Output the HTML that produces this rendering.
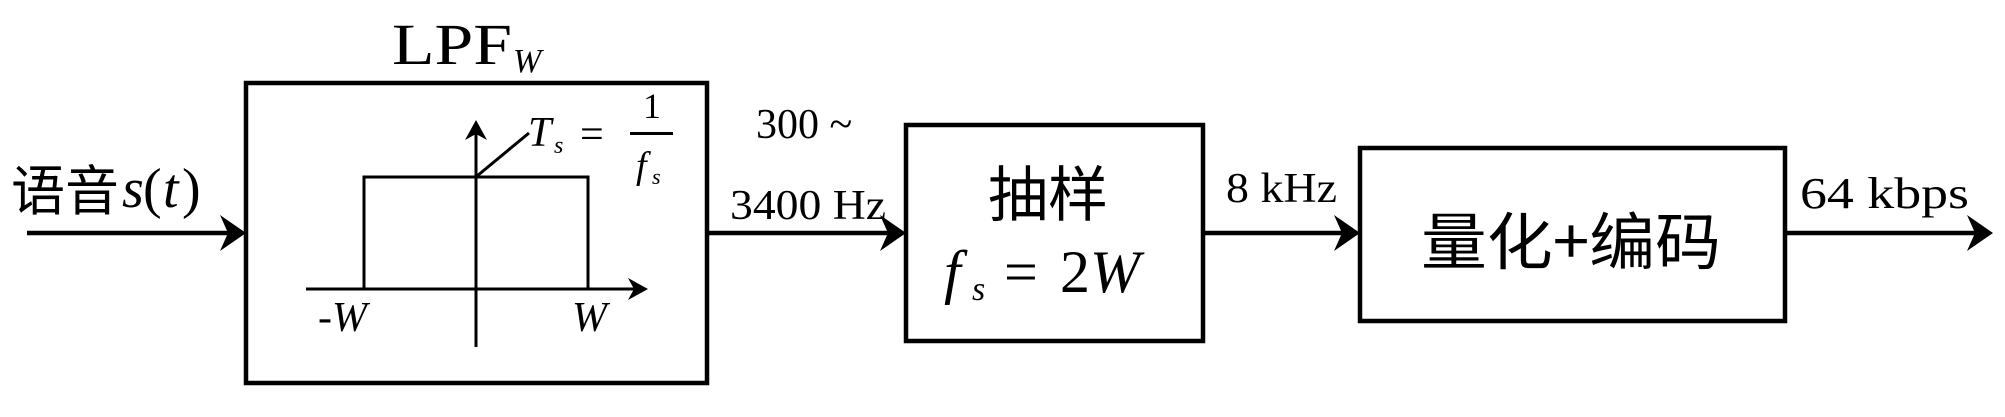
<!DOCTYPE html>
<html><head><meta charset="utf-8"><style>html,body{margin:0;padding:0;background:#fff}svg{display:block}</style></head>
<body>
<svg width="2005" height="417" viewBox="0 0 2005 417" xmlns="http://www.w3.org/2000/svg" font-family="'Liberation Serif','Noto Serif CJK SC',serif">
<g fill="none" stroke="#000">
<rect x="246" y="83" width="461" height="300" stroke-width="4.5"/>
<rect x="906" y="125" width="297" height="216" stroke-width="4.5"/>
<rect x="1360" y="148" width="425" height="173" stroke-width="4.5"/>
<path d="M27 233H238M708 233H898M1205 233H1352M1787 233H1982" stroke-width="4.5"/>
<path d="M306 289H640M476 347V128M364 289V177H588V289M477 176L529 133" stroke-width="3"/>
</g>
<g fill="#000">
<path d="M246 233L220 215L228 233L220 251Z"/>
<path d="M906 233L880 215L888 233L880 251Z"/>
<path d="M1360 233L1334 215L1342 233L1334 251Z"/>
<path d="M1993 233L1967 215L1975 233L1967 251Z"/>
<path d="M648 289L628 278L634 289L628 300Z"/>
<path d="M476 120L465 140L476 134L487 140Z"/>
</g>
<g fill="#000">
<text x="392" y="64" font-size="58" textLength="120" lengthAdjust="spacingAndGlyphs">LPF</text>
<text x="513" y="72" font-size="34" font-style="italic">W</text>
<text x="11" y="210" font-size="54" font-family="'Noto Sans CJK SC',sans-serif">语音</text>
<text x="122" y="207" font-size="56" font-style="italic">s</text>
<text x="143" y="207" font-size="56">(</text>
<text x="163" y="207" font-size="56" font-style="italic">t</text>
<text x="182" y="207" font-size="56">)</text>
<text x="528" y="146" font-size="42" font-style="italic">T</text>
<text x="554" y="153" font-size="24" font-style="italic">s</text>
<text x="580" y="148" font-size="42">=</text>
<text x="643" y="118" font-size="36">1</text>
<rect x="630" y="132" width="43" height="3"/>
<text x="636" y="178" font-size="38" font-style="italic">f</text>
<text x="652" y="184" font-size="22" font-style="italic">s</text>
<text x="318" y="331" font-size="42">-</text>
<text x="332" y="331" font-size="42" font-style="italic">W</text>
<text x="572" y="331" font-size="42" font-style="italic">W</text>
<text x="756" y="138" font-size="42">300 ~</text>
<text x="730" y="219" font-size="42" textLength="156" lengthAdjust="spacingAndGlyphs">3400 Hz</text>
<text x="988" y="216" font-size="60" font-family="'Noto Sans CJK SC',sans-serif">抽样</text>
<text x="944" y="292" font-size="60" font-style="italic">f</text>
<text x="972" y="300" font-size="34" font-style="italic">s</text>
<text x="1004" y="292" font-size="60">=</text>
<text x="1060" y="292" font-size="60">2</text>
<text x="1090" y="292" font-size="60" font-style="italic">W</text>
<text x="1226" y="202" font-size="42" textLength="111" lengthAdjust="spacingAndGlyphs">8 kHz</text>
<text x="1421" y="264" font-size="62" font-family="'Noto Sans CJK SC',sans-serif" textLength="300" lengthAdjust="spacingAndGlyphs">量化+编码</text>
<text x="1800" y="208" font-size="44" textLength="169" lengthAdjust="spacingAndGlyphs">64 kbps</text>
</g>
</svg>
</body></html>
